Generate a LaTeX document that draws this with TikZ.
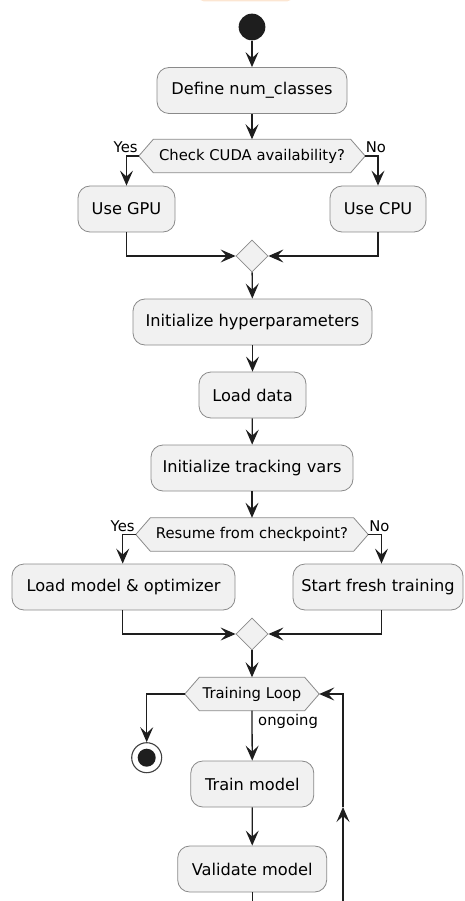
\documentclass[tikz,border=0pt]{standalone}
\usepackage{fontspec}
\setmainfont{DejaVu Sans}
\usetikzlibrary{positioning}
\usetikzlibrary{shapes.geometric, arrows.meta, backgrounds}
\definecolor{boxfill}{HTML}{F1F1F1}
\definecolor{boxline}{HTML}{8A8A8A}
\definecolor{ink}{HTML}{1E1E1E}
\definecolor{peach}{HTML}{FCE6D2}
\tikzstyle{flow} = [draw=ink, line width=1.3pt, -{Stealth[length=15pt, width=13pt, inset=6pt]}]
\tikzstyle{wire} = [draw=ink, line width=1.3pt]
\tikzstyle{act} = [draw=boxline, line width=0.8pt, fill=boxfill, rounded corners=12pt, minimum height=46pt, inner sep=0pt, font=\fontsize{16.2}{19}\selectfont]
\tikzstyle{test} = [rectangle, minimum height=33pt, inner sep=0pt, font=\fontsize{14.8}{17}\selectfont]
\tikzstyle{hexa} = [draw=boxline, line width=0.8pt, fill=boxfill]
\tikzstyle{merge} = [draw=boxline, line width=0.8pt, fill=boxfill, diamond, minimum width=32pt, minimum height=32pt, inner sep=0pt]
\tikzstyle{lbl} = [font=\fontsize{14.8}{17}\selectfont, inner sep=0pt]

\begin{document}
\begin{tikzpicture}[x=1pt, y=-1pt]
    \useasboundingbox (0,0) rectangle (464,901);
    \clip (0,0) rectangle (464,901);
    \fill[peach, rounded corners=5pt] (199,-20) rectangle (292,1.5);

    \node[circle, fill=ink, minimum size=26.7pt, inner sep=0pt] (start) at (252,27) {};
    \node[act, minimum width=190pt] (classes) at (252,90.5) {Define num\_classes};
    \draw[flow] (start) -- (classes);

    \node[test, minimum width=226pt] (cuda) at (252,156) {Check CUDA availability?};
    \draw[flow] (classes) -- (cuda);
    \node[act, minimum width=97pt] (gpu) at (126.5,209) {Use GPU};
    \node[act, minimum width=96pt] (cpu) at (378,209) {Use CPU};
    \draw[flow] (cuda.west) -| (gpu.north);
    \draw[flow] (cuda.east) -| (cpu.north);
    \node[lbl, anchor=base east] (yes1) at ([xshift=-1pt, yshift=3pt]cuda.west) {Yes};
    \node[lbl, anchor=base west] (no1) at ([xshift=0.5pt, yshift=3pt]cuda.east) {No};

    \node[merge] (merge1) at (252,256) {};
    \draw[flow] (gpu.south) |- (merge1.west);
    \draw[flow] (cpu.south) |- (merge1.east);

    \node[act, minimum width=239pt] (hyper) at (252.5,322) {Initialize hyperparameters};
    \node[act, minimum width=107pt] (data) at (252.5,395) {Load data};
    \node[act, minimum width=202pt] (track) at (252,468) {Initialize tracking vars};
    \draw[flow] (merge1) -- (hyper);
    \draw[flow] (hyper) -- (data);
    \draw[flow] (data) -- (track);

    \node[test, minimum width=232pt] (resume) at (252,534.5) {Resume from checkpoint?};
    \draw[flow] (track) -- (resume);
    \node[act, minimum width=223pt] (ckpt) at (123.5,587) {Load model \& optimizer};
    \node[act, minimum width=170pt] (fresh) at (378,587) {Start fresh training};
    \draw[flow] (resume.west) -| ([xshift=-0.8pt]ckpt.north);
    \draw[flow] (resume.east) -| ([xshift=3.5pt]fresh.north);
    \node[lbl, anchor=base east] (yes2) at ([xshift=-1pt, yshift=3.5pt]resume.west) {Yes};
    \node[lbl, anchor=base west] (no2) at ([xshift=1pt, yshift=3.5pt]resume.east) {No};

    \node[merge] (merge2) at (252,634) {};
    \draw[flow] ([xshift=-0.8pt]ckpt.south) |- (merge2.west);
    \draw[flow] ([xshift=3.5pt]fresh.south) |- (merge2.east);

    \node[test, minimum width=134pt] (loop) at (252,694) {Training Loop};
    \draw[flow] (merge2) -- (loop);
    \node[circle, draw=ink!85, line width=1.1pt, fill=white, minimum size=30pt, inner sep=0pt] (stop) at (146.7,757.7) {};
    \fill[ink] (stop) circle (9pt);
    \draw[flow] (loop.west) -| (stop.north);

    \node[act, minimum width=123pt] (train) at (252.3,784) {Train model};
    \node[act, minimum width=149pt] (valid) at (252.2,869) {Validate model};
    \draw[flow] (loop.south) -- (train);
    \node[lbl, anchor=base west] (ongoing) at ([xshift=6pt, yshift=-14.5pt]loop.south) {ongoing};
    \draw[flow] (train) -- (valid);

    \coordinate (vend) at (252.2,901);
    \coordinate (back) at (343,901);
    \coordinate (backmid) at (343,807);
    \draw[wire] (valid.south) -- (vend);
    \draw[flow] (back) -- (backmid);
    \draw[flow] (backmid) |- (loop.east);

    % hexagon outlines behind the decision texts
    \begin{scope}[on background layer]
        \foreach \d in {cuda, resume, loop}
            \draw[hexa] (\d.west) -- ([xshift=14.5pt]\d.north west) -- ([xshift=-14.5pt]\d.north east)
                -- (\d.east) -- ([xshift=-14.5pt]\d.south east) -- ([xshift=14.5pt]\d.south west) -- cycle;
    \end{scope}
\end{tikzpicture}
\end{document}
